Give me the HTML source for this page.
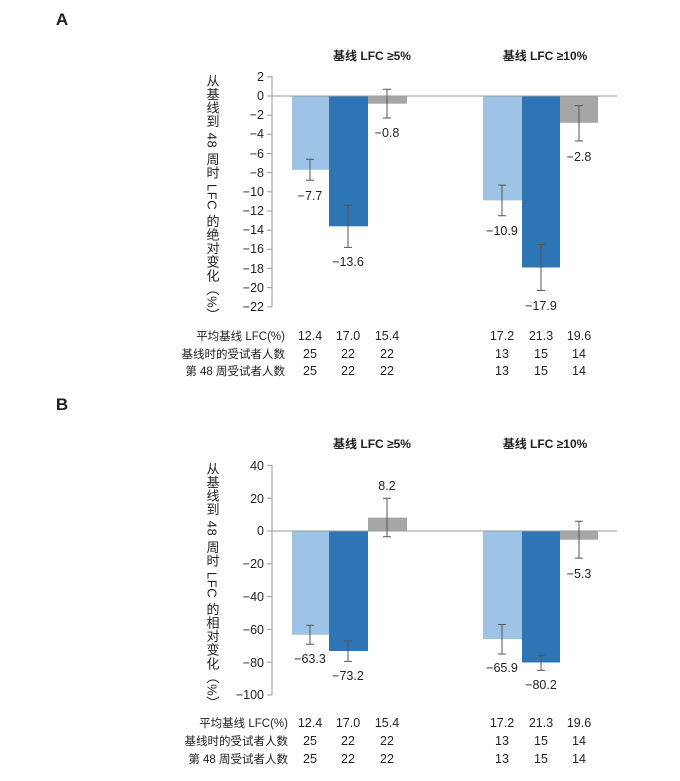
<!DOCTYPE html>
<html><head><meta charset="utf-8"><style>
body{margin:0;background:#fff}
svg text{font-family:"Liberation Sans","Noto Sans CJK SC",sans-serif;fill:#222}
</style></head><body>
<svg width="680" height="776" viewBox="0 0 680 776" xmlns="http://www.w3.org/2000/svg">
<g font-size="12" text-anchor="middle">
<text x="62" y="25" font-size="17" font-weight="bold">A</text>
<text x="62" y="410" font-size="17" font-weight="bold">B</text>
<text x="372" y="60" font-weight="bold">基线 LFC ≥5%</text>
<text x="545" y="60" font-weight="bold">基线 LFC ≥10%</text>
<text x="372" y="448" font-weight="bold">基线 LFC ≥5%</text>
<text x="545" y="448" font-weight="bold">基线 LFC ≥10%</text>
</g>
<text x="0" y="0" font-size="13" transform="translate(212,74)" style="writing-mode:vertical-rl" letter-spacing="0.6">从基线到 48 周时 LFC 的绝对变化（%）</text>
<text x="0" y="0" font-size="13" transform="translate(212,462)" style="writing-mode:vertical-rl" letter-spacing="0.6">从基线到 48 周时 LFC 的相对变化（%）</text>

<!-- Chart A -->
<g>
<line x1="272" y1="76" x2="272" y2="307" stroke="#999"/>
<g stroke="#999">
<line x1="267" y1="76.8" x2="272" y2="76.8"/><line x1="267" y1="96" x2="272" y2="96"/><line x1="267" y1="115.2" x2="272" y2="115.2"/><line x1="267" y1="134.3" x2="272" y2="134.3"/><line x1="267" y1="153.5" x2="272" y2="153.5"/><line x1="267" y1="172.6" x2="272" y2="172.6"/><line x1="267" y1="191.8" x2="272" y2="191.8"/><line x1="267" y1="211" x2="272" y2="211"/><line x1="267" y1="230.1" x2="272" y2="230.1"/><line x1="267" y1="249.3" x2="272" y2="249.3"/><line x1="267" y1="268.4" x2="272" y2="268.4"/><line x1="267" y1="287.6" x2="272" y2="287.6"/><line x1="267" y1="306.8" x2="272" y2="306.8"/>
</g>
<g font-size="12.5" text-anchor="end">
<text x="264" y="81">2</text><text x="264" y="100">0</text><text x="264" y="119">−2</text><text x="264" y="138">−4</text><text x="264" y="158">−6</text><text x="264" y="177">−8</text><text x="264" y="196">−10</text><text x="264" y="215">−12</text><text x="264" y="234">−14</text><text x="264" y="253">−16</text><text x="264" y="273">−18</text><text x="264" y="292">−20</text><text x="264" y="311">−22</text>
</g>
<rect x="292" y="96" width="37" height="73.8" fill="#9dc3e6"/>
<rect x="329" y="96" width="39" height="130.3" fill="#2e75b6"/>
<rect x="368" y="96" width="39" height="7.7" fill="#a6a6a6"/>
<rect x="483" y="96" width="39" height="104.4" fill="#9dc3e6"/>
<rect x="522" y="96" width="38" height="171.5" fill="#2e75b6"/>
<rect x="560" y="96" width="38" height="26.8" fill="#a6a6a6"/>
<line x1="272" y1="96" x2="617" y2="96" stroke="#999"/>
<g stroke="#555" fill="none">
<path d="M310 159.2V180.3M306 159.2H314M306 180.3H314"/>
<path d="M348 205.2V247.4M344 205.2H352M344 247.4H352"/>
<path d="M387 89.3V118M383 89.3H391M383 118H391"/>
<path d="M502 185.1V215.8M498 185.1H506M498 215.8H506"/>
<path d="M541 244.5V290.5M537 244.5H545M537 290.5H545"/>
<path d="M579 105.6V141M575 105.6H583M575 141H583"/>
</g>
<g font-size="12.5" text-anchor="middle">
<text x="310" y="200">−7.7</text><text x="348" y="266">−13.6</text><text x="387" y="137">−0.8</text>
<text x="502" y="235">−10.9</text><text x="541" y="310">−17.9</text><text x="579" y="161">−2.8</text>
</g>
<g font-size="12.5" text-anchor="middle">
<text x="310" y="340">12.4</text><text x="348" y="340">17.0</text><text x="387" y="340">15.4</text><text x="502" y="340">17.2</text><text x="541" y="340">21.3</text><text x="579" y="340">19.6</text>
<text x="310" y="358">25</text><text x="348" y="358">22</text><text x="387" y="358">22</text><text x="502" y="358">13</text><text x="541" y="358">15</text><text x="579" y="358">14</text>
<text x="310" y="375">25</text><text x="348" y="375">22</text><text x="387" y="375">22</text><text x="502" y="375">13</text><text x="541" y="375">15</text><text x="579" y="375">14</text>
</g>
<g font-size="11.5" text-anchor="end">
<text x="285" y="340">平均基线 LFC(%)</text><text x="285" y="358">基线时的受试者人数</text><text x="285" y="375">第 48 周受试者人数</text>
</g>
</g>

<!-- Chart B -->
<g>
<line x1="272" y1="465" x2="272" y2="695" stroke="#999"/>
<g stroke="#999">
<line x1="267" y1="465.4" x2="272" y2="465.4"/><line x1="267" y1="498.2" x2="272" y2="498.2"/><line x1="267" y1="531" x2="272" y2="531"/><line x1="267" y1="563.8" x2="272" y2="563.8"/><line x1="267" y1="596.6" x2="272" y2="596.6"/><line x1="267" y1="629.4" x2="272" y2="629.4"/><line x1="267" y1="662.2" x2="272" y2="662.2"/><line x1="267" y1="695" x2="272" y2="695"/>
</g>
<g font-size="12.5" text-anchor="end">
<text x="264" y="470">40</text><text x="264" y="503">20</text><text x="264" y="535">0</text><text x="264" y="568">−20</text><text x="264" y="601">−40</text><text x="264" y="634">−60</text><text x="264" y="667">−80</text><text x="264" y="699">−100</text>
</g>
<rect x="292" y="531" width="37" height="103.8" fill="#9dc3e6"/>
<rect x="329" y="531" width="39" height="120" fill="#2e75b6"/>
<rect x="368" y="517.6" width="39" height="13.4" fill="#a6a6a6"/>
<rect x="483" y="531" width="39" height="108.1" fill="#9dc3e6"/>
<rect x="522" y="531" width="38" height="131.5" fill="#2e75b6"/>
<rect x="560" y="531" width="38" height="8.7" fill="#a6a6a6"/>
<line x1="272" y1="531" x2="617" y2="531" stroke="#999"/>
<g stroke="#555" fill="none">
<path d="M310 625.3V644.2M306 625.3H314M306 644.2H314"/>
<path d="M348 640.9V661.4M344 640.9H352M344 661.4H352"/>
<path d="M387 498.2V536.7M383 498.2H391M383 536.7H391"/>
<path d="M502 624.5V654M498 624.5H506M498 654H506"/>
<path d="M541 655.6V670.4M537 655.6H545M537 670.4H545"/>
<path d="M579 521.2V558.1M575 521.2H583M575 558.1H583"/>
</g>
<g font-size="12.5" text-anchor="middle">
<text x="310" y="663">−63.3</text><text x="348" y="680">−73.2</text><text x="387" y="490">8.2</text>
<text x="502" y="672">−65.9</text><text x="541" y="689">−80.2</text><text x="579" y="578">−5.3</text>
</g>
<g font-size="12.5" text-anchor="middle">
<text x="310" y="727">12.4</text><text x="348" y="727">17.0</text><text x="387" y="727">15.4</text><text x="502" y="727">17.2</text><text x="541" y="727">21.3</text><text x="579" y="727">19.6</text>
<text x="310" y="745">25</text><text x="348" y="745">22</text><text x="387" y="745">22</text><text x="502" y="745">13</text><text x="541" y="745">15</text><text x="579" y="745">14</text>
<text x="310" y="763">25</text><text x="348" y="763">22</text><text x="387" y="763">22</text><text x="502" y="763">13</text><text x="541" y="763">15</text><text x="579" y="763">14</text>
</g>
<g font-size="11.5" text-anchor="end">
<text x="288" y="727">平均基线 LFC(%)</text><text x="288" y="745">基线时的受试者人数</text><text x="288" y="763">第 48 周受试者人数</text>
</g>
</g>
</svg>
</body></html>
